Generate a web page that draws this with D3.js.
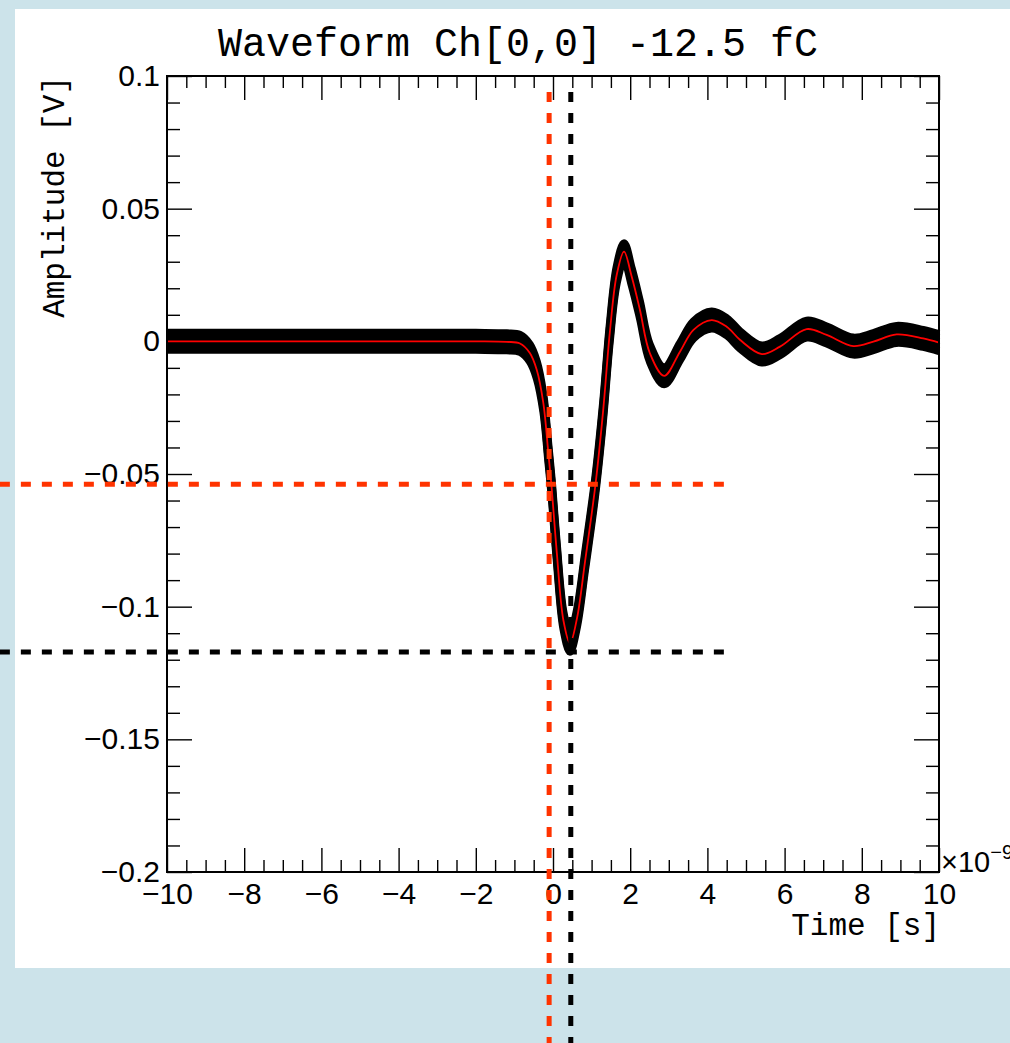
<!DOCTYPE html>
<html><head><meta charset="utf-8">
<script src="https://cdn.jsdelivr.net/npm/d3@7"></script>
<style>html,body{margin:0;padding:0;background:#cce3ea;overflow:hidden} svg{display:block}</style>
</head><body><svg id="c" width="1010" height="1043"></svg>
<script>
// ---- data ----
const timeNs = [-10,-8,-6,-4,-2,-1.2,-0.855,-0.6,-0.42,-0.25,-0.12,-0.03,0.1,0.27,0.44,0.62,0.83,1.10,1.30,1.47,1.65,1.84,2.04,2.25,2.51,2.88,3.29,3.64,4.11,4.50,4.85,5.41,5.88,6.57,7.09,7.78,8.30,8.90,9.59,10.0];
const meanV  = [0,0,0,0,0,-0.0002,-0.0008,-0.0044,-0.0108,-0.0233,-0.0422,-0.0560,-0.0799,-0.1052,-0.1138,-0.1045,-0.0830,-0.0540,-0.0260,0.0030,0.0250,0.0338,0.0243,0.0120,-0.0045,-0.0130,-0.0039,0.0043,0.0080,0.0055,0.0005,-0.0048,-0.0020,0.0046,0.0024,-0.0018,-0.0001,0.0026,0.0011,-0.0005];

const xMajorTicks = [-10,-8,-6,-4,-2,0,2,4,6,8,10];
const xTickLabels = ["\u221210","\u22128","\u22126","\u22124","\u22122","0","2","4","6","8","10"];
const yMajorTicks = [0.1,0.05,0,-0.05,-0.1,-0.15,-0.2];
const yTickLabels = ["0.1","0.05","0","\u22120.05","\u22120.1","\u22120.15","\u22120.2"];

const cfdTimeNs = -0.10, cfdLevelV = -0.0539;     // red markers
const peakTimeNs = 0.461, peakLevelV = -0.1171;   // black markers
const markerTimeSpan = [-14.33, 4.51];
const markerLevelSpan = [0.094, -0.2645];

const titleText = "Waveform Ch[0,0] -12.5 fC";
const xTitle = "Time [s]";
const yTitle = "Amplitude [V]";

// ---- layout ----
const svg = d3.select("#c");
const L = 167, R = 939, T = 76, B = 872;
const x = d3.scaleLinear().domain([-10, 10]).range([L, R]);
const y = d3.scaleLinear().domain([-0.2, 0.1]).range([B, T]);

svg.append("rect").attr("x", 15).attr("y", 9).attr("width", 1000).attr("height", 959).attr("fill", "#fff");

const xMinor = d3.range(-10, 10.001, 0.5).filter(v => Math.abs(v/2 - Math.round(v/2)) > 1e-6);
const yMinor = d3.range(-0.2, 0.1001, 0.01).filter(v => Math.abs(v/0.05 - Math.round(v/0.05)) > 1e-6);

function styleAxis(g){
  g.select(".domain").remove();
  g.selectAll(".tick line").attr("stroke", "#000").attr("stroke-width", 1.4);
  g.selectAll("text").attr("font-family", "'Liberation Sans', Arial, sans-serif").attr("font-size", 30).attr("fill", "#000");
}
// bottom
svg.append("g").attr("transform", `translate(0,${B})`)
  .call(d3.axisBottom(x).tickValues(xMajorTicks).tickSize(-24).tickSizeOuter(0).tickPadding(11).tickFormat((d,i)=>xTickLabels[i]))
  .call(styleAxis);
svg.append("g").attr("transform", `translate(0,${B})`)
  .call(d3.axisBottom(x).tickValues(xMinor).tickSize(-12).tickSizeOuter(0).tickFormat(""))
  .call(styleAxis);
// top
svg.append("g").attr("transform", `translate(0,${T})`)
  .call(d3.axisTop(x).tickValues(xMajorTicks).tickSize(-24).tickSizeOuter(0).tickFormat(""))
  .call(styleAxis);
svg.append("g").attr("transform", `translate(0,${T})`)
  .call(d3.axisTop(x).tickValues(xMinor).tickSize(-12).tickSizeOuter(0).tickFormat(""))
  .call(styleAxis);
// left
svg.append("g").attr("transform", `translate(${L},0)`)
  .call(d3.axisLeft(y).tickValues(yMajorTicks).tickSize(-25).tickSizeOuter(0).tickPadding(7).tickFormat((d,i)=>yTickLabels[i]))
  .call(styleAxis);
svg.append("g").attr("transform", `translate(${L},0)`)
  .call(d3.axisLeft(y).tickValues(yMinor).tickSize(-13).tickSizeOuter(0).tickFormat(""))
  .call(styleAxis);
// right
svg.append("g").attr("transform", `translate(${R},0)`)
  .call(d3.axisRight(y).tickValues(yMajorTicks).tickSize(-25).tickSizeOuter(0).tickFormat(""))
  .call(styleAxis);
svg.append("g").attr("transform", `translate(${R},0)`)
  .call(d3.axisRight(y).tickValues(yMinor).tickSize(-13).tickSizeOuter(0).tickFormat(""))
  .call(styleAxis);

// ---- waveform: overlaid traces band + mean ----
const pts = timeNs.map((t,i)=>[t, meanV[i]]);
const line = d3.line().x(d=>x(d[0])).y(d=>y(d[1])).curve(d3.curveCatmullRom.alpha(0.5));
const band = svg.append("g");
[-8.5,-4.25,0,4.25,8.5].forEach(dy=>{
  band.append("path").attr("d", line(pts)).attr("transform", `translate(0,${dy})`)
    .attr("fill","none").attr("stroke","#000").attr("stroke-width",8).attr("stroke-linejoin","round").attr("stroke-linecap","butt");
});
svg.append("path").attr("d", line(pts)).attr("fill","none").attr("stroke","#ff0000").attr("stroke-width",1.8);

// frame
svg.append("rect").attr("x", L).attr("y", T).attr("width", R-L).attr("height", B-T)
  .attr("fill","none").attr("stroke","#000").attr("stroke-width",2);

// ---- dashed marker lines ----
const dash = "10,11";
function hline(v, col){
  svg.append("line").attr("x1", x(markerTimeSpan[0])).attr("x2", x(markerTimeSpan[1]))
    .attr("y1", y(v)).attr("y2", y(v)).attr("stroke", col).attr("stroke-width", 5).attr("stroke-dasharray", dash);
}
function vline(t, col){
  svg.append("line").attr("x1", x(t)).attr("x2", x(t))
    .attr("y1", y(markerLevelSpan[0])).attr("y2", y(markerLevelSpan[1])).attr("stroke", col).attr("stroke-width", 5).attr("stroke-dasharray", dash);
}
hline(peakLevelV, "#000");
hline(cfdLevelV, "#ff3300");
vline(peakTimeNs, "#000");
vline(cfdTimeNs, "#ff3300");

// ---- texts ----
const mono = "'Liberation Mono', 'Courier New', monospace";
svg.append("text").attr("x", 518).attr("y", 56).attr("text-anchor","middle")
  .attr("font-family", mono).attr("font-size", 40).text(titleText);
svg.append("text").attr("x", R + 1).attr("y", 935).attr("text-anchor","end")
  .attr("font-family", mono).attr("font-size", 31).text(xTitle);
svg.append("text").attr("transform", `translate(64,${T}) rotate(-90)`).attr("text-anchor","end")
  .attr("font-family", mono).attr("font-size", 31).text(yTitle);
const ex = svg.append("text").attr("x", R + 2).attr("y", B).attr("font-family","'Liberation Sans', Arial, sans-serif").attr("font-size", 29);
ex.append("tspan").text("\u00d710");
ex.append("tspan").attr("dy", -13).attr("font-size", 20).text("\u22129");
</script></body></html>
